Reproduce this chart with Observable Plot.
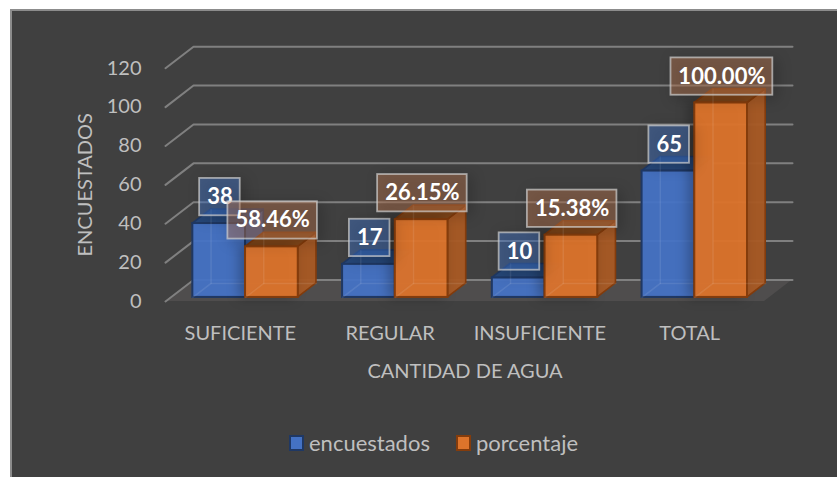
<!DOCTYPE html>
<html>
<head>
<meta charset="utf-8">
<script src="https://cdn.jsdelivr.net/npm/d3@7"></script>
<script src="https://cdn.jsdelivr.net/npm/@observablehq/plot@0.6"></script>
<style>
  html, body { margin: 0; padding: 0; background: #fff; }
  #chart {
    position: absolute; left: 10px; top: 9px; width: 827px; height: 468px;
    background: #404040; box-shadow: inset 2px 2px 0 #8c8c8c; overflow: hidden;
    font-family: Lato, sans-serif;
  }
  #chart svg { display: block; background: transparent; }
  #legend {
    display: flex; align-items: center; padding-left: 279px; padding-top: 11px;
    color: #bfbfbf; font-size: 22px; line-height: 24px;
  }
  #legend .sw { width: 11px; height: 12px; border: 2px solid; margin-right: 5px; }
  #legend .item { display: flex; align-items: center; margin-right: 26px; }
</style>
</head>
<body>
<div id="chart"></div>
<script>
const categories = ["SUFICIENTE", "REGULAR", "INSUFICIENTE", "TOTAL"];
const encuestados = [38, 17, 10, 65];
const porcentaje = [26, 40, 32, 100];
const encuestadosLabels = ["38", "17", "10", "65"];
const porcentajeLabels = ["58.46%", "26.15%", "15.38%", "100.00%"];
const yTicks = [0, 20, 40, 60, 80, 100, 120];

const seriesInfo = [
  {name: "encuestados", values: encuestados, labels: encuestadosLabels, offset: 0.147,
   front: "#4472c4", edge: "#1f3864", side: "#335a9c", top: "#264778", box: "#4379d4", halfW: 0.1355, shadow: null},
  {name: "porcentaje", values: porcentaje, labels: porcentajeLabels, offset: 0.499,
   front: "#dd742b", edge: "#843c0c", side: "#a85a24", top: "#84481a", box: "#c07a50", halfW: 0.299,
   shadow: "drop-shadow(-5px 0 6px rgba(0,0,0,0.28))"}
];

// Oblique depth: how far one full unit of depth shifts x and y, in scale units.
const DX = 0.187, DY = 11.06;
const BAR_W = 0.352, Z0 = 0.19, Z1 = 0.84;
const px = (x, z) => x + z * DX;
const py = (y, z) => y + z * DY;

const marks = [];

// Floor
marks.push(Plot.areaX(
  [{y: py(0, 0), x1: px(0, 0), x2: px(4, 0)}, {y: py(0, 1), x1: px(0, 1), x2: px(4, 1)}],
  {y: "y", x1: "x1", x2: "x2", fill: "#4f4d4d"}
));

// Gridlines (side wall, then back wall)
const grid = yTicks.flatMap(v => [
  {v, x: px(0, 0), y: py(v, 0)},
  {v, x: px(0, 1), y: py(v, 1)},
  {v, x: px(4, 1), y: py(v, 1)}
]);
marks.push(Plot.line(grid, {x: "x", y: "y", z: "v", stroke: "#808080", strokeWidth: 2}));

// Bars
for (const s of seriesInfo) {
  s.values.forEach((v, i) => {
    const a = i + s.offset, b = a + BAR_W;
    marks.push(Plot.areaY(
      [{x: px(b, Z0), y1: py(0, Z0), y2: py(v, Z0)}, {x: px(b, Z1), y1: py(0, Z1), y2: py(v, Z1)}],
      {x: "x", y1: "y1", y2: "y2", fill: s.side, fillOpacity: 0.96, stroke: s.edge, strokeWidth: 1.6, strokeLinejoin: "round"}
    ));
    marks.push(Plot.areaX(
      [{y: py(v, Z0), x1: px(a, Z0), x2: px(b, Z0)}, {y: py(v, Z1), x1: px(a, Z1), x2: px(b, Z1)}],
      {y: "y", x1: "x1", x2: "x2", fill: s.top, stroke: s.edge, strokeWidth: 1.6, strokeLinejoin: "round"}
    ));
    marks.push(Plot.rect([{}], {
      x1: () => px(a, Z0), x2: () => px(b, Z0), y1: () => py(0, Z0), y2: () => py(v, Z0),
      fill: s.front, fillOpacity: 0.95, stroke: s.edge, strokeWidth: 2, imageFilter: s.shadow
    }));
    // faint hidden edges seen through the translucent face
    marks.push(Plot.line(
      [{x: px(a, Z0), y: py(0, Z0)}, {x: px(a, Z1), y: py(0, Z1)}, {x: px(a, Z1), y: py(v, Z1)}],
      {x: "x", y: "y", stroke: "#ffffff", strokeOpacity: 0.09, strokeWidth: 1.5}
    ));
    marks.push(Plot.line(
      [{x: px(a, Z1), y: py(0, Z1)}, {x: px(b, Z1), y: py(0, Z1)}],
      {x: "x", y: "y", stroke: "#ffffff", strokeOpacity: 0.09, strokeWidth: 1.5}
    ));
  });
}

// Data labels
const LABEL_UP = 13.6, LABEL_H = 9.6;
for (const s of seriesInfo) {
  s.values.forEach((v, i) => {
    const cx = i + s.offset + BAR_W / 2 + Z0 * DX + 0.005;
    const halfW = s.labels[i].length > 6 ? 0.34 : s.halfW;
    const cy = v + LABEL_UP + Z0 * DY;
    marks.push(Plot.rect([{}], {
      x1: () => cx - halfW, x2: () => cx + halfW,
      y1: () => cy - LABEL_H, y2: () => cy + LABEL_H,
      fill: s.box, fillOpacity: 0.42, stroke: "#d0d0d0", strokeOpacity: 0.7, strokeWidth: 1.8,
      imageFilter: "drop-shadow(4px 3px 7px rgba(0,0,0,0.4))"
    }));
    marks.push(Plot.text([s.labels[i]], {
      x: () => cx, y: () => cy, text: d => d,
      fill: "#ffffff", fontSize: 22, fontWeight: 700, fontFamily: "Lato, sans-serif"
    }));
  });
}

// Axes
marks.push(Plot.axisY({
  anchor: "left", ticks: yTicks, tickSize: 0, tickPadding: 24, color: "#bfbfbf", fontSize: 20,
  label: "ENCUESTADOS", labelAnchor: "center", labelArrow: "none", labelOffset: 88
}));
marks.push(Plot.axisX({
  anchor: "bottom", ticks: categories.map((_, i) => i + 0.5),
  tickFormat: d => categories[Math.floor(d)], tickSize: 0, tickPadding: 24, color: "#bfbfbf", fontSize: 20,
  label: "CANTIDAD DE AGUA", labelAnchor: "center", labelArrow: "none", labelOffset: 76
}));

const chart = Plot.plot({
  width: 827, height: 411,
  marginLeft: 155, marginRight: 73, marginTop: 58.7, marginBottom: 119,
  style: {fontFamily: "Lato, sans-serif", background: "transparent"},
  x: {type: "linear", domain: [0, 4]},
  y: {type: "linear", domain: [0, 120]},
  marks
});
const host = document.getElementById("chart");
host.appendChild(chart);

const legend = document.createElement("div");
legend.id = "legend";
for (const s of seriesInfo) {
  const item = document.createElement("div");
  item.className = "item";
  const sw = document.createElement("span");
  sw.className = "sw";
  sw.style.background = s.front;
  sw.style.borderColor = s.edge;
  const label = document.createElement("span");
  label.textContent = s.name;
  item.append(sw, label);
  legend.appendChild(item);
}
host.appendChild(legend);
</script>
</body>
</html>
